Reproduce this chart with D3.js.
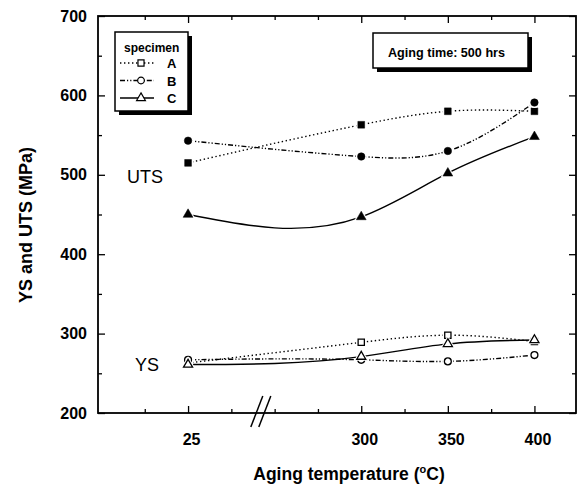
<!DOCTYPE html>
<html>
<head>
<meta charset="utf-8">
<script src="https://cdn.jsdelivr.net/npm/d3@7"></script>
<style>
  body { margin: 0; background: #fff; }
  svg { display: block; font-family: "Liberation Sans", Arial, sans-serif; }
</style>
</head>
<body>
<svg id="chart" width="579" height="486"></svg>
<script>
// aging temperatures and where they sit on the broken x axis
const temps = ['25', '300', '350', '400'];
const tempPos = [200, 300, 350, 400];
const majorTicks = [200, 300, 350, 400];
const minorTicks = [175, 225, 250, 275, 325, 375];
const breakAt = 242;

// strength values (MPa)
const specimens = ['A', 'B', 'C'];
const utsA = [515, 563, 580, 580];
const utsB = [543, 523, 530, 591];
const utsC = [450, 447, 502, 548];
const ysA = [263, 289, 298, 290];
const ysB = [267, 267, 265, 273];
const ysC = [261, 271, 287, 292];

const yTicks = [200, 300, 400, 500, 600, 700];
const yMinor = [250, 350, 450, 550, 650];

const styles = {
  A: { symbol: d3.symbolSquare, size: 46, dash: '1.4,2.6' },
  B: { symbol: d3.symbolCircle, size: 44, dash: '5,2,1.2,2,1.2,2' },
  C: { symbol: d3.symbolTriangle, size: 42, dash: null }
};

// natural cubic spline of y as a function of x (like the plotting program's "spline" connect)
function curveNaturalX(context) {
  let xs, ys;
  return {
    areaStart() {}, areaEnd() {},
    lineStart() { xs = []; ys = []; },
    point(px, py) { xs.push(+px); ys.push(+py); },
    lineEnd() {
      const n = xs.length;
      if (!n) return;
      context.moveTo(xs[0], ys[0]);
      if (n === 1) return;
      if (n === 2) { context.lineTo(xs[1], ys[1]); return; }
      const h = [], s = [];
      for (let i = 0; i < n - 1; i++) {
        h[i] = xs[i + 1] - xs[i];
        s[i] = (ys[i + 1] - ys[i]) / h[i];
      }
      const M = new Array(n).fill(0);
      const a = [], b = [], c = [], r = [];
      for (let i = 1; i < n - 1; i++) {
        a[i] = h[i - 1]; b[i] = 2 * (h[i - 1] + h[i]); c[i] = h[i];
        r[i] = 6 * (s[i] - s[i - 1]);
      }
      for (let i = 2; i < n - 1; i++) {
        const m = a[i] / b[i - 1];
        b[i] -= m * c[i - 1];
        r[i] -= m * r[i - 1];
      }
      for (let i = n - 2; i >= 1; i--) M[i] = (r[i] - c[i] * M[i + 1]) / b[i];
      for (let i = 0; i < n - 1; i++) {
        const d0 = s[i] - h[i] * (2 * M[i] + M[i + 1]) / 6;
        const d1 = s[i] + h[i] * (M[i] + 2 * M[i + 1]) / 6;
        context.bezierCurveTo(
          xs[i] + h[i] / 3, ys[i] + d0 * h[i] / 3,
          xs[i + 1] - h[i] / 3, ys[i + 1] - d1 * h[i] / 3,
          xs[i + 1], ys[i + 1]);
      }
    }
  };
}

const svg = d3.select('#chart');

const x = d3.scaleLinear().domain([148, 424]).range([98, 576]);
const y = d3.scaleLinear().domain([200, 700]).range([413, 16]);

// axes: ticks point inward on all four sides
function axisGroup(axis, tx, ty) {
  const g = svg.append('g').attr('transform', `translate(${tx},${ty})`).call(axis);
  g.select('.domain').remove();
  g.selectAll('.tick line').attr('stroke', '#000').attr('stroke-width', 1.3);
  return g;
}

const xb = axisGroup(d3.axisBottom(x).tickValues(majorTicks).tickSize(-7).tickPadding(21)
  .tickFormat(d => temps[tempPos.indexOf(d)]), 0, 413);
xb.selectAll('text').attr('font-size', 16).attr('font-weight', 'bold').attr('dx', 3).attr('fill', '#000');
axisGroup(d3.axisBottom(x).tickValues(minorTicks).tickSize(-4).tickFormat(''), 0, 413);
axisGroup(d3.axisTop(x).tickValues(majorTicks).tickSize(-7).tickFormat(''), 0, 16);
axisGroup(d3.axisTop(x).tickValues(minorTicks).tickSize(-4).tickFormat(''), 0, 16);

const yl = axisGroup(d3.axisLeft(y).tickValues(yTicks).tickSize(-7).tickPadding(11), 98, 0);
yl.selectAll('text').attr('font-size', 16).attr('font-weight', 'bold').attr('fill', '#000');
axisGroup(d3.axisLeft(y).tickValues(yMinor).tickSize(-4).tickFormat(''), 98, 0);
axisGroup(d3.axisRight(y).tickValues(yTicks).tickSize(-7).tickFormat(''), 576, 0);
axisGroup(d3.axisRight(y).tickValues(yMinor).tickSize(-4).tickFormat(''), 576, 0);

// frame
svg.append('rect')
  .attr('x', x.range()[0]).attr('y', y.range()[1])
  .attr('width', x.range()[1] - x.range()[0]).attr('height', y.range()[0] - y.range()[1])
  .attr('fill', 'none').attr('stroke', '#000').attr('stroke-width', 1.8);

// axis break marks
const bx = x(breakAt);
[-4, 4].forEach(off => {
  svg.append('line')
    .attr('x1', bx + off - 6).attr('y1', 427)
    .attr('x2', bx + off + 6).attr('y2', 396)
    .attr('stroke', '#000').attr('stroke-width', 1.5);
});

// curves
const line = d3.line().x((d, i) => x(tempPos[i])).y(d => y(d)).curve(curveNaturalX);

const groups = [
  { name: 'A', values: utsA, filled: true },
  { name: 'B', values: utsB, filled: true },
  { name: 'C', values: utsC, filled: true },
  { name: 'A', values: ysA, filled: false },
  { name: 'B', values: ysB, filled: false },
  { name: 'C', values: ysC, filled: false }
];

groups.forEach(s => {
  const st = styles[s.name];
  svg.append('path')
    .attr('d', line(s.values))
    .attr('fill', 'none').attr('stroke', '#000').attr('stroke-width', 1.4)
    .attr('stroke-dasharray', st.dash);
});

groups.forEach(s => {
  const st = styles[s.name];
  const pts = svg.append('g');
  // white halo so the lines stop short of the markers
  pts.selectAll('path.halo').data(s.values).join('path')
    .attr('class', 'halo')
    .attr('transform', (d, i) => `translate(${x(tempPos[i])},${y(d)})`)
    .attr('d', d3.symbol(st.symbol, st.size * 2.2))
    .attr('fill', '#fff');
  pts.selectAll('path.mk').data(s.values).join('path')
    .attr('class', 'mk')
    .attr('transform', (d, i) => `translate(${x(tempPos[i])},${y(d)})`)
    .attr('d', d3.symbol(st.symbol, s.filled ? st.size : st.size * 0.85))
    .attr('fill', s.filled ? '#000' : '#fff')
    .attr('stroke', '#000').attr('stroke-width', s.filled ? 0.5 : 1.3);
});

// group labels
svg.append('text').attr('x', 127).attr('y', 183).attr('font-size', 18).text('UTS');
svg.append('text').attr('x', 135).attr('y', 371).attr('font-size', 18).text('YS');

// legend box with drop shadow
svg.append('rect').attr('x', 119).attr('y', 36).attr('width', 73).attr('height', 79).attr('fill', '#000');
svg.append('rect').attr('x', 115).attr('y', 32).attr('width', 73).attr('height', 79)
  .attr('fill', '#fff').attr('stroke', '#000').attr('stroke-width', 1.5);
svg.append('text').attr('x', 124).attr('y', 52).attr('font-size', 12).attr('font-weight', 'bold')
  .text('specimen');

const leg = svg.selectAll('g.leg').data(specimens).join('g')
  .attr('class', 'leg')
  .attr('transform', (d, i) => `translate(0,${63 + i * 17.5})`);
leg.append('line').attr('x1', 120).attr('x2', 154).attr('y1', 0).attr('y2', 0)
  .attr('stroke', '#000').attr('stroke-width', 1.3)
  .attr('stroke-dasharray', d => styles[d].dash);
leg.append('path')
  .attr('transform', 'translate(141,0)')
  .attr('d', d => d3.symbol(styles[d].symbol, styles[d].size * 0.8)())
  .attr('fill', '#fff').attr('stroke', '#000').attr('stroke-width', 1.2);
leg.append('text').attr('x', 167).attr('y', 5).attr('font-size', 13).attr('font-weight', 'bold')
  .text(d => d);

// aging time note
svg.append('rect').attr('x', 377).attr('y', 37).attr('width', 155).attr('height', 35).attr('fill', '#000');
svg.append('rect').attr('x', 373).attr('y', 33).attr('width', 155).attr('height', 35)
  .attr('fill', '#fff').attr('stroke', '#000').attr('stroke-width', 1.5);
svg.append('text').attr('x', 388).attr('y', 57).attr('font-size', 12.5).attr('font-weight', 'bold')
  .attr('textLength', 117).attr('lengthAdjust', 'spacingAndGlyphs')
  .text('Aging time: 500 hrs');

// axis titles
const xt = svg.append('text').attr('x', 349).attr('y', 480).attr('text-anchor', 'middle')
  .attr('font-size', 17.5).attr('font-weight', 'bold');
xt.append('tspan').text('Aging temperature (');
xt.append('tspan').attr('font-size', 11).attr('dy', -7).text('o');
xt.append('tspan').attr('dy', 7).text('C)');

svg.append('text').attr('transform', 'translate(32,225) rotate(-90)').attr('text-anchor', 'middle')
  .attr('font-size', 18).attr('font-weight', 'bold')
  .text('YS and UTS (MPa)');
</script>
</body>
</html>
